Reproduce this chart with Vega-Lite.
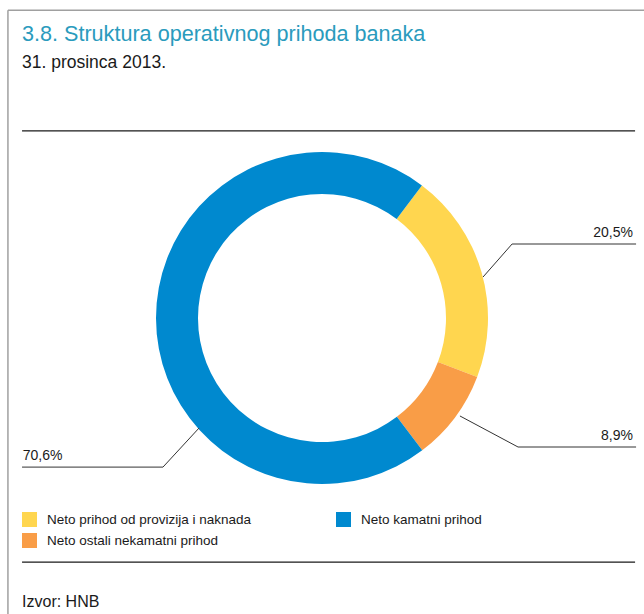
{
  "$schema": "https://vega.github.io/schema/vega-lite/v6.json",
  "width": 644,
  "height": 614,
  "autosize": {"type": "none"},
  "padding": 0,
  "background": "white",
  "title": {
    "text": "3.8. Struktura operativnog prihoda banaka",
    "subtitle": "31. prosinca 2013.",
    "anchor": "start",
    "frame": "group",
    "orient": "top",
    "offset": -71,
    "dx": 22,
    "font": "Liberation Sans",
    "fontSize": 21.6,
    "fontWeight": "normal",
    "color": "#2A9BBD",
    "subtitleFont": "Liberation Sans",
    "subtitleFontSize": 17.5,
    "subtitleColor": "#1a1a1a",
    "subtitlePadding": 8
  },
  "datasets": {
    "udjeli": [
      {"kategorija": "Neto prihod od provizija i naknada", "udio": 20.5, "redoslijed": 1},
      {"kategorija": "Neto ostali nekamatni prihod", "udio": 8.9, "redoslijed": 2},
      {"kategorija": "Neto kamatni prihod", "udio": 70.6, "redoslijed": 3}
    ],
    "vodilice": [
      {"grupa": "provizije", "tocka": 1, "x": 97.0, "y": 24.7},
      {"grupa": "provizije", "tocka": 2, "x": 114.5, "y": 44.6},
      {"grupa": "provizije", "tocka": 3, "x": 189.2, "y": 44.6},
      {"grupa": "ostali", "tocka": 1, "x": 83.1, "y": -59.0},
      {"grupa": "ostali", "tocka": 2, "x": 118.1, "y": -77.7},
      {"grupa": "ostali", "tocka": 3, "x": 189.2, "y": -77.7},
      {"grupa": "kamatni", "tocka": 1, "x": -74.1, "y": -66.3},
      {"grupa": "kamatni", "tocka": 2, "x": -95.8, "y": -89.8},
      {"grupa": "kamatni", "tocka": 3, "x": -180.7, "y": -89.8}
    ],
    "oznake": [
      {"tekst": "20,5%", "strana": "desno", "x": 187.3, "y": 48.8},
      {"tekst": "8,9%", "strana": "desno", "x": 187.3, "y": -73.5},
      {"tekst": "70,6%", "strana": "lijevo", "x": -180.3, "y": -85.5}
    ],
    "crte": [
      {"x": -180.7, "x2": 188.6, "y": 112.7, "y2": 112.7},
      {"x": -180.7, "x2": 188.6, "y": -147.0, "y2": -147.0}
    ],
    "okvir": [
      {"x": -189.2, "x2": -189.2, "y": 185.5, "y2": -178.3},
      {"x": -189.2, "x2": 194.0, "y": 185.5, "y2": 185.5}
    ],
    "izvor": [
      {"tekst": "Izvor: HNB", "x": -180.7, "y": -174.1}
    ]
  },
  "layer": [
    {
      "data": {"name": "okvir"},
      "mark": {"type": "rule", "color": "#a0a0a0", "strokeWidth": 1.5},
      "encoding": {
        "x": {"field": "x", "type": "quantitative", "scale": {"domain": [-193.98, 193.98], "nice": false, "zero": false}, "axis": null},
        "x2": {"field": "x2"},
        "y": {"field": "y", "type": "quantitative", "scale": {"domain": [-178.3, 191.6], "nice": false, "zero": false}, "axis": null},
        "y2": {"field": "y2"}
      }
    },
    {
      "data": {"name": "crte"},
      "mark": {"type": "rule", "color": "#1a1a1a", "strokeWidth": 1.2},
      "encoding": {
        "x": {"field": "x", "type": "quantitative", "axis": null},
        "x2": {"field": "x2"},
        "y": {"field": "y", "type": "quantitative", "axis": null},
        "y2": {"field": "y2"}
      }
    },
    {
      "data": {"name": "udjeli"},
      "mark": {"type": "arc", "outerRadius": 166, "innerRadius": 124},
      "encoding": {
        "x": {"datum": 0, "type": "quantitative", "axis": null},
        "y": {"datum": 0, "type": "quantitative", "axis": null},
        "theta": {"field": "udio", "type": "quantitative", "stack": true, "scale": {"range": [0.646, 6.929]}},
        "order": {"field": "redoslijed", "type": "quantitative"},
        "color": {
          "field": "kategorija",
          "type": "nominal",
          "scale": {
            "domain": ["Neto prihod od provizija i naknada", "Neto ostali nekamatni prihod", "Neto kamatni prihod"],
            "range": ["#FFD64F", "#F99D47", "#0089CF"]
          },
          "legend": {
            "title": null,
            "orient": "none",
            "legendX": 22,
            "legendY": 512,
            "columns": 2,
            "columnPadding": 84,
            "rowPadding": 6,
            "padding": 0,
            "symbolType": "square",
            "symbolSize": 225,
            "symbolStrokeWidth": 0,
            "symbolOpacity": 1,
            "labelFont": "Liberation Sans",
            "labelFontSize": 13.5,
            "labelColor": "#1a1a1a",
            "labelOffset": 10,
            "labelLimit": 300
          }
        }
      }
    },
    {
      "data": {"name": "vodilice"},
      "mark": {"type": "line", "color": "#333333", "strokeWidth": 1},
      "encoding": {
        "x": {"field": "x", "type": "quantitative", "axis": null},
        "y": {"field": "y", "type": "quantitative", "axis": null},
        "detail": {"field": "grupa", "type": "nominal"},
        "order": {"field": "tocka", "type": "quantitative"}
      }
    },
    {
      "data": {"name": "oznake"},
      "transform": [{"filter": "datum.strana === 'desno'"}],
      "mark": {"type": "text", "align": "right", "baseline": "alphabetic", "font": "Liberation Sans", "fontSize": 14, "color": "#1a1a1a"},
      "encoding": {
        "x": {"field": "x", "type": "quantitative", "axis": null},
        "y": {"field": "y", "type": "quantitative", "axis": null},
        "text": {"field": "tekst"}
      }
    },
    {
      "data": {"name": "oznake"},
      "transform": [{"filter": "datum.strana === 'lijevo'"}],
      "mark": {"type": "text", "align": "left", "baseline": "alphabetic", "font": "Liberation Sans", "fontSize": 14, "color": "#1a1a1a"},
      "encoding": {
        "x": {"field": "x", "type": "quantitative", "axis": null},
        "y": {"field": "y", "type": "quantitative", "axis": null},
        "text": {"field": "tekst"}
      }
    },
    {
      "data": {"name": "izvor"},
      "mark": {"type": "text", "align": "left", "baseline": "alphabetic", "font": "Liberation Sans", "fontSize": 16, "color": "#1a1a1a"},
      "encoding": {
        "x": {"field": "x", "type": "quantitative", "axis": null},
        "y": {"field": "y", "type": "quantitative", "axis": null},
        "text": {"field": "tekst"}
      }
    }
  ],
  "config": {
    "view": {"stroke": null}
  }
}
